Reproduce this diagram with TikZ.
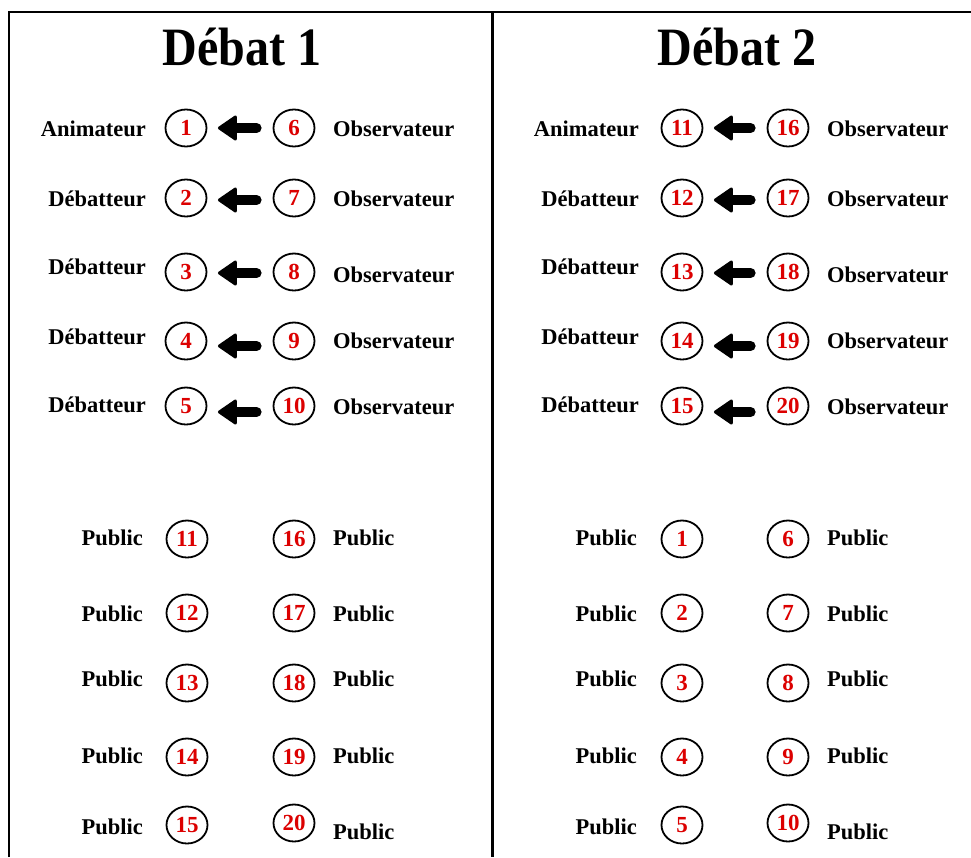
\documentclass[tikz,border=0pt]{standalone}
\usepackage{fontspec}
\setmainfont{Liberation Serif}
\usetikzlibrary{shapes.geometric}
\definecolor{numred}{RGB}{220,0,0}
\begin{document}
\begin{tikzpicture}[x=1pt,y=-1pt,
  seat/.style={ellipse, draw, line width=1.8pt, minimum width=41pt, minimum height=37pt, inner sep=0pt, text=numred, font=\fontsize{23}{23}\selectfont\bfseries},
  rolel/.style={anchor=base east, inner sep=0pt, font=\fontsize{22.5}{22.5}\selectfont\bfseries},
  roler/.style={anchor=base west, inner sep=0pt, font=\fontsize{22.5}{22.5}\selectfont\bfseries},
  titletext/.style={anchor=base, inner sep=0pt, font=\fontsize{54}{54}\selectfont\bfseries},
  shaft/.style={line width=10pt, line cap=round},
  arrowhead/.style={fill=black, draw=black, line width=3pt, line join=round},
  frameline/.style={line width=1.2pt},
  divider/.style={line width=3pt}
]
\fill[white] (0,0) rectangle (971,857);
\useasboundingbox (0,0) rectangle (971,857);
\coordinate (fbl) at (9,857);
\coordinate (ftl) at (9,12);
\coordinate (ftr) at (971,12);
\coordinate (dtop) at (492,12);
\coordinate (dbot) at (492,857);
\draw[frameline] (fbl) -- (ftl) -- (ftr);
\draw[divider] (dtop) -- (dbot);

\node[titletext] (t1) at (242,65) {\scalebox{0.89}[1]{Débat 1}};
\node[titletext] (t2) at (737,65) {\scalebox{0.89}[1]{Débat 2}};

\foreach \i/\cy/\ly/\ry/\ay/\lab in {1/128/129/129/0/Animateur, 2/198/199/199/2/Débatteur, 3/272/267/275/1/Débatteur, 4/341/337/341/5/Débatteur, 5/406/405/407/6/Débatteur}{
  \pgfmathtruncatemacro{\n}{\i+5}
  \pgfmathtruncatemacro{\m}{\i+10}
  \pgfmathtruncatemacro{\k}{\i+15}
  % Debate 1
  \node[seat] (pa\i) at (186,\cy) {\i};
  \node[seat] (pb\i) at (294,\cy) {\n};
  \node[rolel] (la\i) at (146,{\ly+7.5}) {\lab};
  \node[roler] (ra\i) at (333,{\ry+7.5}) {Observateur};
  \draw[shaft] ([xshift=-16pt,yshift={-\ay pt}]pb\i.west) -- ([xshift=24pt,yshift={-\ay pt}]pa\i.east);
  \path[arrowhead] ([xshift=12pt,yshift={-\ay pt}]pa\i.east) -- ++(16,-11) -- ++(0,22) -- cycle;
  % Debate 2
  \node[seat] (qa\i) at (682,\cy) {\m};
  \node[seat] (qb\i) at (788,\cy) {\k};
  \node[rolel] (lb\i) at (639,{\ly+7.5}) {\lab};
  \node[roler] (rb\i) at (827,{\ry+7.5}) {Observateur};
  \draw[shaft] ([xshift=-16pt,yshift={-\ay pt}]qb\i.west) -- ([xshift=24pt,yshift={-\ay pt}]qa\i.east);
  \path[arrowhead] ([xshift=12pt,yshift={-\ay pt}]qa\i.east) -- ++(16,-11) -- ++(0,22) -- cycle;
}

\foreach \i/\cl/\cr/\pl/\pr in {1/539/539/538/538, 2/613/613/614/614, 3/683/683/679/679, 4/757/757/756/756, 5/825/823/827/832}{
  \pgfmathtruncatemacro{\n}{\i+5}
  \pgfmathtruncatemacro{\m}{\i+10}
  \pgfmathtruncatemacro{\k}{\i+15}
  % Debate 1 public
  \node[seat] (ua\i) at (187,\cl) {\m};
  \node[seat] (ub\i) at (294,\cr) {\k};
  \node[rolel] (pla\i) at (143,{\pl+7.5}) {Public};
  \node[roler] (pra\i) at (333,{\pr+7.5}) {Public};
  % Debate 2 public
  \node[seat] (va\i) at (682,\cl) {\i};
  \node[seat] (vb\i) at (788,\cr) {\n};
  \node[rolel] (plb\i) at (637,{\pl+7.5}) {Public};
  \node[roler] (prb\i) at (827,{\pr+7.5}) {Public};
}
\end{tikzpicture}
\end{document}
